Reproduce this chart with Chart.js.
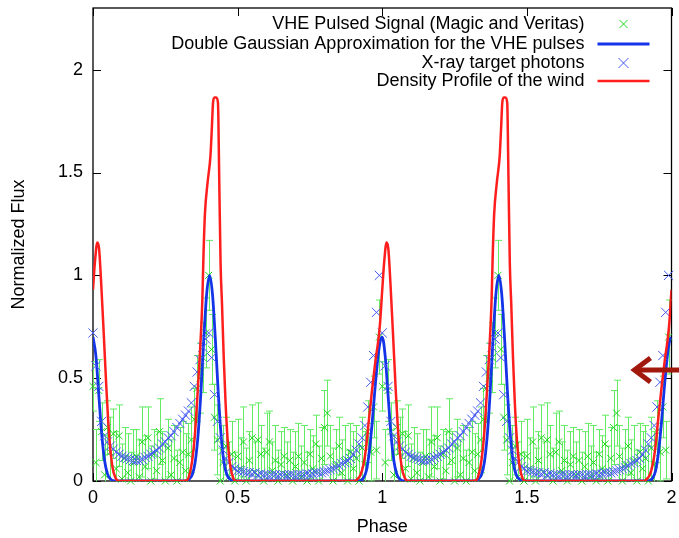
<!DOCTYPE html>
<html><head><meta charset="utf-8">
<script src="https://cdn.jsdelivr.net/npm/chart.js@4.4.1/dist/chart.umd.min.js"></script>
<style>html,body{margin:0;padding:0;background:#fff;overflow:hidden}</style>
</head><body>
<canvas id="c" width="679" height="538"></canvas>
<script>
// ---------- data (one rotation period, repeated for phase 1-2 as in the original) ----------
const phaseTicks = [0, 0.5, 1, 1.5, 2];
const fluxTicks = [0, 0.5, 1, 1.5, 2];
const seriesNames = [
  'VHE Pulsed Signal (Magic and Veritas)',
  'Double Gaussian Approximation for the VHE pulses',
  'X-ray target photons',
  'Density Profile of the wind'
];
const binWidth = 0.01;
// VHE pulsed signal: flux per 0.01 phase bin and its error
const vheFlux = [0.46,0.09,0.44,0.24,0.03,0.26,0.14,0.23,0.06,0.22,
                 0.01,0.11,0.04,0.00,0.09,0.12,0.02,0.19,0.07,0.21,
                 0.00,0.13,0.05,0.24,0.10,0.00,0.16,0.03,0.11,0.00,
                 0.09,0.14,0.05,0.13,0.20,0.30,0.45,0.50,0.60,0.72,
                 1.00,0.64,0.31,0.20,0.00,0.09,0.17,0.02,0.13,0.00,
                 0.12,0.06,0.19,0.00,0.10,0.21,0.04,0.20,0.13,0.00,
                 0.14,0.19,0.05,0.10,0.00,0.08,0.12,0.03,0.10,0.00,
                 0.07,0.12,0.02,0.09,0.00,0.13,0.06,0.18,0.00,0.11,
                 0.26,0.33,0.12,0.00,0.08,0.17,0.04,0.10,0.00,0.14,
                 0.06,0.11,0.00,0.16,0.08,0.24,0.14,0.36,0.15,0.70];
const vheErr  = [0.12,0.16,0.15,0.14,0.19,0.13,0.17,0.12,0.18,0.15,
                 0.17,0.15,0.19,0.14,0.16,0.13,0.18,0.17,0.15,0.15,
                 0.17,0.12,0.19,0.16,0.14,0.18,0.14,0.17,0.16,0.15,
                 0.17,0.15,0.18,0.15,0.16,0.15,0.16,0.17,0.17,0.17,
                 0.17,0.17,0.16,0.17,0.16,0.18,0.14,0.17,0.16,0.14,
                 0.18,0.15,0.17,0.16,0.14,0.16,0.15,0.18,0.14,0.16,
                 0.19,0.15,0.14,0.17,0.15,0.16,0.14,0.16,0.15,0.14,
                 0.17,0.16,0.15,0.18,0.14,0.12,0.16,0.14,0.17,0.15,
                 0.18,0.16,0.15,0.16,0.17,0.14,0.16,0.17,0.15,0.14,
                 0.18,0.16,0.17,0.15,0.16,0.15,0.14,0.15,0.14,0.18];
// X-ray target photons per 0.01 phase bin
const xrayFlux = [0.72,0.56,0.46,0.29,0.22,0.19,0.17,0.155,0.14,0.13,
                  0.12,0.115,0.11,0.105,0.10,0.10,0.10,0.105,0.115,0.12,
                  0.13,0.14,0.15,0.16,0.18,0.19,0.21,0.22,0.24,0.26,
                  0.28,0.30,0.32,0.34,0.38,0.46,0.53,0.59,0.65,0.69,
                  0.72,0.60,0.42,0.29,0.21,0.15,0.11,0.09,0.07,0.06,
                  0.05,0.05,0.045,0.04,0.04,0.035,0.04,0.03,0.035,0.03,
                  0.03,0.025,0.03,0.03,0.025,0.03,0.03,0.025,0.03,0.03,
                  0.025,0.03,0.03,0.03,0.035,0.03,0.035,0.04,0.04,0.04,
                  0.045,0.05,0.055,0.06,0.065,0.075,0.085,0.09,0.10,0.11,
                  0.13,0.15,0.18,0.21,0.27,0.36,0.48,0.61,0.82,1.00];
// Double Gaussian curve (sampled)
const gaussPhase = [0.000,0.010,0.020,0.030,0.040,0.050,0.060,0.075,
                    0.323,0.333,0.343,0.353,0.363,0.373,0.383,0.393,0.403,0.413,0.423,0.433,0.443,0.453,0.463,0.473,0.485,
                    0.920,0.935,0.945,0.955,0.965,0.975,0.985,0.993];
const gaussFlux  = [0.70,0.61,0.42,0.23,0.10,0.035,0.01,0.0,
                    0.0,0.01,0.03,0.09,0.22,0.43,0.69,0.91,1.00,0.91,0.69,0.43,0.22,0.09,0.03,0.01,0.0,
                    0.0,0.015,0.05,0.14,0.28,0.45,0.60,0.68];
// Wind density profile (sampled)
const densityPhase = [0.000,0.007,0.015,0.021,0.028,0.037,0.046,0.056,0.067,0.078,0.090,
                      0.310,0.326,0.335,0.343,0.352,0.360,0.370,0.378,0.382,0.387,0.396,0.406,0.411,0.415,0.420,0.426,0.432,0.4365,0.441,0.446,0.452,0.458,0.466,0.475,0.486,0.495,
                      0.905,0.915,0.925,0.935,0.944,0.954,0.966,0.977,0.986,0.992];
const densityFlux  = [0.93,1.07,1.16,1.13,0.97,0.72,0.46,0.22,0.07,0.015,0.0,
                      0.0,0.005,0.04,0.10,0.22,0.39,0.63,0.88,1.10,1.30,1.45,1.58,1.72,1.84,1.865,1.865,1.84,1.46,1.06,0.86,0.60,0.39,0.19,0.07,0.01,0.0,
                      0.0,0.01,0.03,0.08,0.16,0.30,0.46,0.59,0.68,0.76];

// ---------- build two rotations ----------
function binsTwoCycles(vals, errs) {
  const out = [];
  for (let c = 0; c < 2; c++) vals.forEach((v, i) => out.push({x: +(c + i * binWidth).toFixed(3), y: v, e: errs ? errs[i] : 0}));
  return out;
}
function curveTwoCycles(ph, vals) {
  const out = [];
  for (let c = 0; c < 2; c++) ph.forEach((p, i) => out.push({x: c + p, y: vals[i]}));
  out.push({x: 2, y: vals[0]});
  return out;
}
const vhePts = binsTwoCycles(vheFlux, vheErr);
const xrayPts = binsTwoCycles(xrayFlux);
const gaussPts = curveTwoCycles(gaussPhase, gaussFlux);
const densityPts = curveTwoCycles(densityPhase, densityFlux);

const COL = {green: '#1ed61e', greenBar: '#62ec62', blue: '#1434e8', xray: '#4658f0', red: '#ff1e1e', arrow: '#a3180c'};
const FONT = '"Liberation Sans", Arial, Helvetica, sans-serif';

function drawX(ctx, x, y, r, color) {
  ctx.save(); ctx.strokeStyle = color; ctx.lineWidth = 1; ctx.beginPath();
  ctx.moveTo(x - r, y - r); ctx.lineTo(x + r, y + r); ctx.moveTo(x - r, y + r); ctx.lineTo(x + r, y - r);
  ctx.stroke(); ctx.restore();
}

const framePlugin = {
  id: 'frame',
  beforeDatasetsDraw(chart) {
    const {ctx, chartArea: a, scales: {x, y}} = chart;
    ctx.save();
    ctx.strokeStyle = '#000'; ctx.lineWidth = 1.3;
    ctx.strokeRect(a.left, a.top, a.right - a.left, a.bottom - a.top);
    ctx.lineWidth = 1;
    const tl = 8;
    ctx.beginPath();
    phaseTicks.forEach(v => { const px = Math.round(x.getPixelForValue(v)) + 0.5;
      ctx.moveTo(px, a.bottom); ctx.lineTo(px, a.bottom - tl); ctx.moveTo(px, a.top); ctx.lineTo(px, a.top + tl); });
    fluxTicks.forEach(v => { const py = Math.round(y.getPixelForValue(v)) + 0.5;
      ctx.moveTo(a.left, py); ctx.lineTo(a.left + tl, py); ctx.moveTo(a.right, py); ctx.lineTo(a.right - tl, py); });
    ctx.stroke();
    // error bars of the VHE signal
    ctx.beginPath(); ctx.rect(a.left, a.top, a.right - a.left, a.bottom - a.top + 0.5); ctx.clip();
    ctx.strokeStyle = COL.greenBar; ctx.lineWidth = 1;
    ctx.beginPath();
    vhePts.forEach(p => {
      const px = Math.round(x.getPixelForValue(p.x)) + 0.5;
      const yl = y.getPixelForValue(p.y - p.e), yh = y.getPixelForValue(p.y + p.e);
      ctx.moveTo(px, yl); ctx.lineTo(px, yh);
      ctx.moveTo(px - 3.5, yh); ctx.lineTo(px + 3.5, yh);
      ctx.moveTo(px - 3.5, yl); ctx.lineTo(px + 3.5, yl);
    });
    ctx.stroke();
    ctx.restore();
  },
  afterDraw(chart) {
    const {ctx, chartArea: a, scales: {x, y}} = chart;
    ctx.save();
    // legend (key)
    ctx.font = '18px ' + FONT; ctx.fillStyle = '#000'; ctx.textAlign = 'right'; ctx.textBaseline = 'middle';
    const tx = a.right - 87, sx0 = a.right - 74, sx1 = a.right - 22, mx = a.right - 48;
    const rows = [a.top + 16, a.top + 36, a.top + 55, a.top + 73];
    seriesNames.forEach((n, i) => ctx.fillText(n, tx, rows[i]));
    drawX(ctx, mx, rows[0], 4, COL.green);
    ctx.strokeStyle = COL.blue; ctx.lineWidth = 2.8; ctx.beginPath(); ctx.moveTo(sx0, rows[1]); ctx.lineTo(sx1, rows[1]); ctx.stroke();
    drawX(ctx, mx, rows[2], 5, COL.xray);
    ctx.strokeStyle = COL.red; ctx.lineWidth = 2.5; ctx.beginPath(); ctx.moveTo(sx0, rows[3]); ctx.lineTo(sx1, rows[3]); ctx.stroke();
    // annotation arrow at the right edge
    const ax = x.getPixelForValue(1.865), ay = y.getPixelForValue(0.54);
    ctx.strokeStyle = COL.arrow; ctx.lineWidth = 5; ctx.lineCap = 'butt'; ctx.lineJoin = 'miter';
    ctx.beginPath(); ctx.moveTo(ax + 18, ay - 12); ctx.lineTo(ax + 2, ay); ctx.lineTo(ax + 18, ay + 12); ctx.stroke();
    ctx.beginPath(); ctx.moveTo(ax + 4, ay); ctx.lineTo(ax + 60, ay); ctx.stroke();
    ctx.restore();
  }
};

const tickFmt = v => String(+v.toFixed(2));

new Chart(document.getElementById('c'), {
  type: 'scatter',
  data: {
    datasets: [
      {label: seriesNames[3], type: 'line', data: densityPts, borderColor: COL.red, borderWidth: 2.5, pointRadius: 0, cubicInterpolationMode: 'monotone', order: 0},
      {label: seriesNames[2], data: xrayPts, pointStyle: 'crossRot', pointRadius: 6.5, borderColor: COL.xray, backgroundColor: COL.xray, pointBorderWidth: 1, clip: false, order: 1},
      {label: seriesNames[1], type: 'line', data: gaussPts, borderColor: COL.blue, borderWidth: 2.8, pointRadius: 0, cubicInterpolationMode: 'monotone', order: 2},
      {label: seriesNames[0], data: vhePts, pointStyle: 'crossRot', pointRadius: 5, borderColor: COL.green, backgroundColor: COL.green, pointBorderWidth: 1, clip: false, order: 3}
    ]
  },
  options: {
    responsive: false, animation: false, devicePixelRatio: 1,
    layout: {padding: {top: 8, right: 2, left: 0, bottom: 0}},
    plugins: {legend: {display: false}, tooltip: {enabled: false}},
    scales: {
      x: {type: 'linear', min: 0, max: 2,
        afterBuildTicks: s => { s.ticks = phaseTicks.map(v => ({value: v})); },
        afterFit: s => { s.height = 57; s.paddingLeft = 0; s.paddingRight = 0; },
        grid: {display: false, drawTicks: false}, border: {display: false},
        ticks: {color: '#000', font: {family: FONT, size: 18}, padding: 6, maxRotation: 0, autoSkip: false, callback: tickFmt},
        title: {display: true, text: 'Phase', color: '#000', font: {family: FONT, size: 18}, padding: {top: 2, bottom: 0}}
      },
      y: {type: 'linear', min: 0, max: 2.3,
        afterBuildTicks: s => { s.ticks = fluxTicks.map(v => ({value: v})); },
        afterFit: s => { s.width = 93; s.paddingTop = 0; s.paddingBottom = 0; },
        grid: {display: false, drawTicks: false}, border: {display: false},
        ticks: {color: '#000', font: {family: FONT, size: 18}, padding: 10, callback: tickFmt},
        title: {display: true, text: 'Normalized Flux', color: '#000', font: {family: FONT, size: 18}, padding: {top: 8, bottom: 0}}
      }
    }
  },
  plugins: [framePlugin]
});
</script>
</body></html>
